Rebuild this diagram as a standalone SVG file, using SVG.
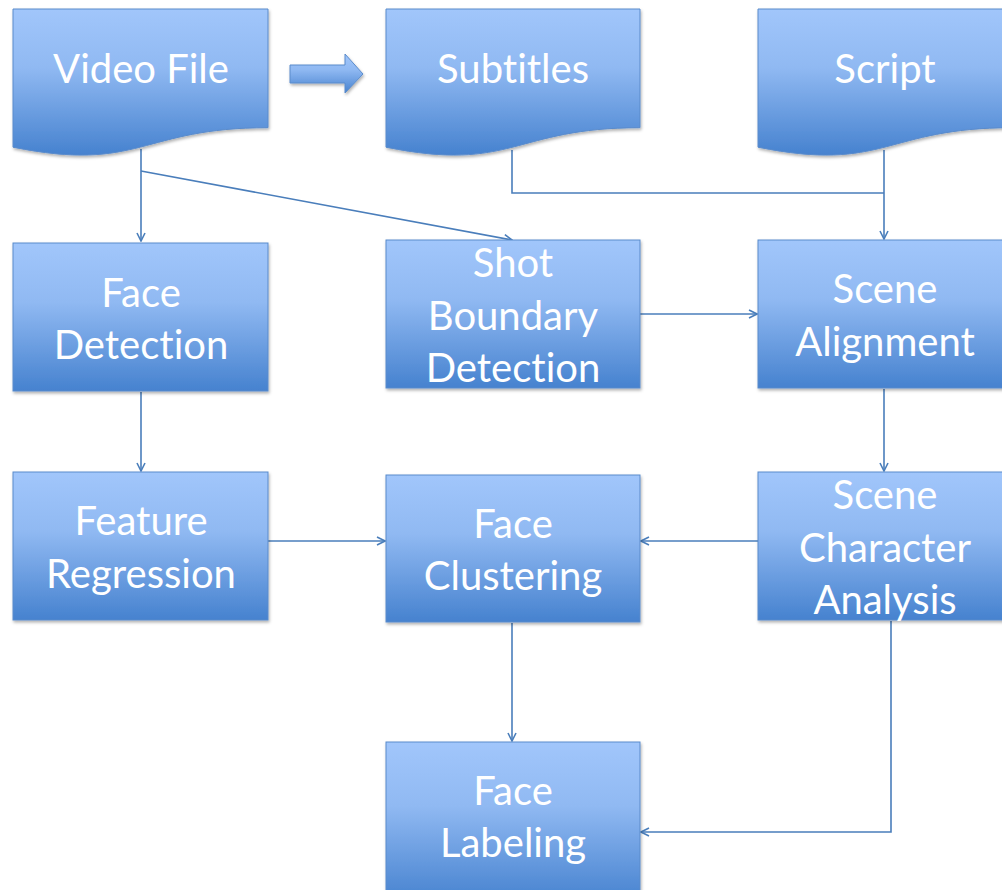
<svg xmlns="http://www.w3.org/2000/svg" width="1002" height="890" viewBox="0 0 1002 890">
<defs>
<linearGradient id="g" x1="0" y1="0" x2="0" y2="1">
<stop offset="0" stop-color="#A1C6FB"/>
<stop offset="0.4" stop-color="#90B9F2"/>
<stop offset="1" stop-color="#4682CF"/>
</linearGradient>
<filter id="sh" x="-5%" y="-5%" width="112%" height="115%">
<feDropShadow dx="1" dy="2" stdDeviation="1.5" flood-color="#000" flood-opacity="0.3"/>
</filter>
<marker id="ah" viewBox="0 0 10 10" refX="9" refY="5" markerWidth="10" markerHeight="10" markerUnits="userSpaceOnUse" orient="auto">
<polyline points="1,1 9,5 1,9" fill="none" stroke="#4A7EBB" stroke-width="1.6"/>
</marker>
</defs>
<style>
.n{fill:url(#g);stroke:#5A8BCB;stroke-width:1;filter:url(#sh)}
.t{font-family:Lato,"Liberation Sans",sans-serif;font-size:40px;fill:#fff;text-anchor:middle;font-variant-ligatures:none;font-feature-settings:"liga" 0,"clig" 0}
.c{fill:none;stroke:#4A7EBB;stroke-width:1.6}
.a{marker-end:url(#ah)}
</style>
<rect width="1002" height="890" fill="#fff"/>

<g id="connectors">
<path class="c a" d="M141,149 V241"/>
<path class="c a" d="M141,171 L512,240"/>
<path class="c" d="M512,150 V193 H884"/>
<path class="c a" d="M884,150 V239"/>
<path class="c a" d="M640,314 H757"/>
<path class="c a" d="M884,389 V471"/>
<path class="c a" d="M141,392 V471"/>
<path class="c a" d="M268,541 H385"/>
<path class="c a" d="M758,541 H641"/>
<path class="c a" d="M512,623 V741"/>
<path class="c a" d="M891,621 V832 H641"/>
</g>

<g id="block-arrow">
<path class="n" d="M290,65 H345 V54 L363,74 L345,93 V83 H290 Z"/>
</g>

<g id="video-file">
<path class="n" d="M13,9 H268 V127.7 C140.5,127.7 140.5,172.9 13,147.2 Z"/>
<text class="t" x="141" y="83">Video File</text>
</g>
<g id="subtitles">
<path class="n" d="M386,9 H640 V127.7 C513,127.7 513,172.9 386,147.2 Z"/>
<text class="t" x="513" y="83">Subtitles</text>
</g>
<g id="script">
<path class="n" d="M758,9 H1012 V127.7 C885,127.7 885,172.9 758,147.2 Z"/>
<text class="t" x="885" y="83">Script</text>
</g>

<g id="face-detection">
<rect class="n" x="13" y="243" width="255" height="148"/>
<text class="t" x="141" y="307">Face</text>
<text class="t" x="141" y="359">Detection</text>
</g>
<g id="shot-boundary-detection">
<rect class="n" x="386" y="240" width="254" height="148"/>
<text class="t" x="513" y="277">Shot</text>
<text class="t" x="513" y="330">Boundary</text>
<text class="t" x="513" y="382">Detection</text>
</g>
<g id="scene-alignment">
<rect class="n" x="758" y="240" width="254" height="148"/>
<text class="t" x="885" y="303">Scene</text>
<text class="t" x="885" y="356">Alignment</text>
</g>
<g id="feature-regression">
<rect class="n" x="13" y="472" width="255" height="148"/>
<text class="t" x="141" y="535">Feature</text>
<text class="t" x="141" y="588">Regression</text>
</g>
<g id="face-clustering">
<rect class="n" x="386" y="475" width="254" height="147"/>
<text class="t" x="513" y="538">Face</text>
<text class="t" x="513" y="590">Clustering</text>
</g>
<g id="scene-character-analysis">
<rect class="n" x="758" y="472" width="254" height="148"/>
<text class="t" x="885" y="509">Scene</text>
<text class="t" x="885" y="562">Character</text>
<text class="t" x="885" y="614">Analysis</text>
</g>
<g id="face-labeling">
<rect class="n" x="386" y="742" width="254" height="160"/>
<text class="t" x="513" y="805">Face</text>
<text class="t" x="513" y="857">Labeling</text>
</g>
</svg>
